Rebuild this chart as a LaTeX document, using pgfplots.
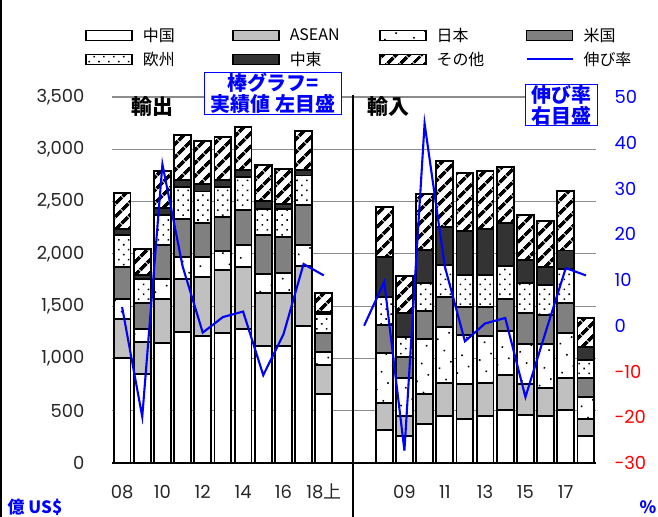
\documentclass[border=0pt]{standalone}
\usepackage{fontspec}
\setmainfont{Poppins}
\newfontfamily\cjk{Noto Sans CJK JP}
\usepackage{pgfplots}
\usepackage{pgfplotstable}
\pgfplotsset{compat=1.18}
\usetikzlibrary{patterns.meta}
\definecolor{aseanc}{HTML}{C0C0C0}
\definecolor{usc}{HTML}{808080}
\definecolor{mec}{HTML}{333333}
\definecolor{gridc}{HTML}{8C8C8C}
\definecolor{bl}{HTML}{0000FF}
\pgfplotsset{
  mybar/.style={draw=black, line width=1.8bp,
    legend image code/.code={\draw[##1] (0bp,-5bp) rectangle (46bp,5bp);}},
  linelegend/.style={legend image code/.code={\draw[##1,draw=bl,line width=2bp] (0bp,0bp) -- (46bp,0bp);}},
}
% exports at x=0..10 (2008..2018H1), imports at x=13..23 (2008..2018H1)
\pgfplotstableread{
x  cn   as   jp   us   eu   me   ot
0  1004 370  191  309  303  63   341
1  848  309  127  249  223  38   255
2  1147 418  191  325  287  73   348
3  1252 504  214  360  309  64   430
4  1211 567  192  325  302  74   408
5  1246 596  185  325  287  70   408
6  1284 590  207  341  312  71   407
7  1115 514  181  367  255  73   347
8  1115 514  188  344  271  48   328
9  1307 577  197  383  286  55   366
10 657  283  121  185  182  16   185
13 312  265  478  268  264  383  478
14 255  194  364  200  192  232  351
15 370  287  532  264  268  319  529
16 446  322  532  287  303  366  631
17 424  334  469  265  302  421  558
18 446  322  443  281  302  446  552
19 504  341  417  303  319  411  535
20 462  296  377  299  287  223  424
21 449  268  418  277  293  169  440
22 504  309  433  284  322  181  568
23 255  169  207  182  169  127  277
}\trade
\begin{document}
\begin{tikzpicture}[x=1bp,y=1bp]
\useasboundingbox (0,0) rectangle (658,517);
\draw[line width=2bp] (1,0) -- (1,517);
\begin{axis}[
  at={(112bp,54bp)}, anchor=south west, scale only axis,
  width=484bp, height=366bp,
  xmin=-0.5, xmax=23.5, ymin=0, ymax=3500,
  ybar stacked, bar width=0.84,
  axis x line*=bottom, axis y line*=left,
  x axis line style={black, line width=1.5bp, -},
  y axis line style={draw=none},
  major tick style={draw=none},
  xtick={0,2,4,6,8,10,14,16,18,20,22},
  xticklabels={08,10,12,14,16,{18{\cjk 上}},09,11,13,15,17},
  ytick={0,500,...,3500},
  yticklabels={0,500,{1,000},{1,500},{2,000},{2,500},{3,000},{3,500}},
  ticklabel style={font=\fontsize{18}{18}\selectfont, text=black!85},
  yticklabel style={xshift=-24bp},
  xticklabel style={text height=12bp, text depth=2bp, yshift=-20bp},
  ymajorgrids, grid style={gridc, line width=1.2bp},
  clip=false,
  legend columns=4,
  legend style={at={(-0.062,1.197)}, anchor=north west, draw=none, fill=none,
    font=\cjk\fontsize{16}{16}\selectfont, nodes={inner sep=1bp}, row sep=7bp,
    /tikz/every odd column/.append style={column sep=9bp}},
]
\addplot[mybar, fill=white] table[x=x,y=cn]{\trade};
\addplot[mybar, fill=aseanc] table[x=x,y=as]{\trade};
\addplot[mybar, fill=white, postaction={pattern={Dots[distance=13bp,radius=1.1bp,angle=30]}, pattern color=black}] table[x=x,y=jp]{\trade};
\addplot[mybar, fill=usc] table[x=x,y=us]{\trade};
\addplot[mybar, fill=white, postaction={pattern={Dots[distance=7bp,radius=1.1bp,angle=45]}, pattern color=black}] table[x=x,y=eu]{\trade};
\addplot[mybar, fill=mec] table[x=x,y=me]{\trade};
\addplot[mybar, fill=white, postaction={pattern={Lines[angle=45,distance=10bp,line width=4bp]}, pattern color=black}] table[x=x,y=ot]{\trade};
\addlegendimage{color=bl, draw=bl, line width=2bp, linelegend}
\legend{\makebox[88bp][l]{中国},\makebox[88bp][l]{ASEAN},\makebox[88bp][l]{日本},\makebox[88bp][l]{米国},
        \makebox[88bp][l]{欧州},\makebox[88bp][l]{中東},\makebox[88bp][l]{その他},\makebox[88bp][l]{伸び率}}
\end{axis}
\begin{axis}[
  at={(112bp,54bp)}, anchor=south west, scale only axis,
  width=484bp, height=366bp,
  xmin=-0.5, xmax=23.5, ymin=-30, ymax=50,
  axis x line=none, axis y line*=right,
  y axis line style={draw=none}, major tick style={draw=none},
  ytick={-30,-20,...,50},
  yticklabels={{\color{red}-30},{\color{red}-20},{\color{red}-10},0,10,20,30,40,50},
  yticklabel style={font=\fontsize{18}{18}\selectfont, text=bl, xshift=15bp},
]
\addplot[bl, line width=2.1bp] coordinates {(0,4.1)(1,-19.9)(2,35.3)(3,13.0)(4,-1.5)(5,1.9)(6,3.1)(7,-10.8)(8,-1.9)(9,13.5)(10,11.0)};
\addplot[bl, line width=2.1bp] coordinates {(12,0)(13,9.6)(14,-27.3)(15,44.2)(16,13.0)(17,-3.4)(18,0.5)(19,1.7)(20,-15.6)(21,-1.4)(22,12.6)(23,11.0)};
\end{axis}
\draw[line width=1.5bp] (353,422) -- (353,0);
\node[font=\cjk\bfseries\fontsize{21}{21}\selectfont] at (152,410) {輸出};
\node[font=\cjk\bfseries\fontsize{21}{21}\selectfont] at (388,410) {輸入};
\node[draw=bl, line width=1bp, fill=white, text=bl, font=\cjk\bfseries\fontsize{20}{21}\selectfont, align=center, inner xsep=6bp, inner ysep=1bp] at (273,423.5) {棒グラフ=\\実績値 左目盛};
\node[draw=bl, line width=1bp, fill=white, text=bl, font=\cjk\bfseries\fontsize{20}{21}\selectfont, align=center, inner xsep=6bp, inner ysep=1bp] at (561.5,412) {伸び率\\右目盛};
\node[text=bl, font=\cjk\bfseries\fontsize{17}{17}\selectfont] at (35,10) {億 US\$};
\node[text=bl, font=\cjk\bfseries\fontsize{17}{17}\selectfont] at (648,10) {\%};
\end{tikzpicture}
\end{document}
